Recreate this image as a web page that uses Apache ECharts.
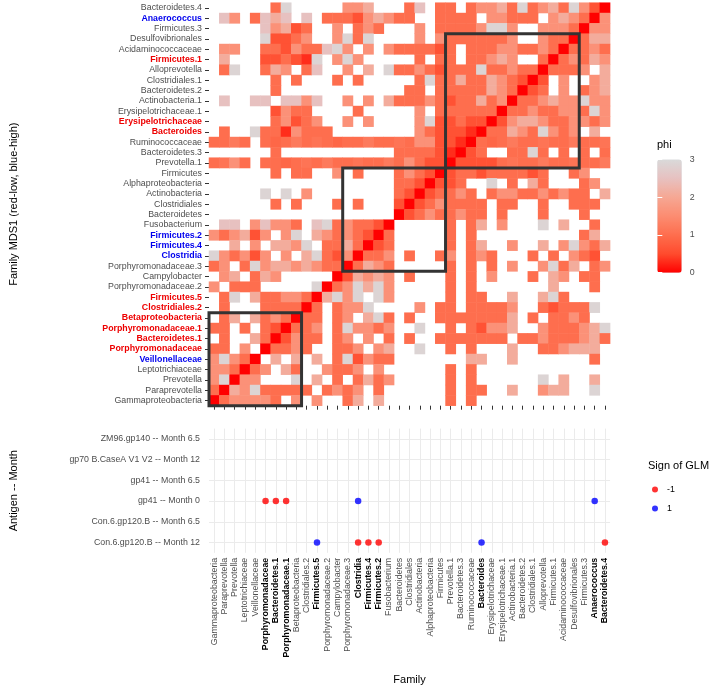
<!DOCTYPE html>
<html><head><meta charset="utf-8">
<script src="https://cdn.jsdelivr.net/npm/echarts@6/dist/echarts.min.js"></script>
<style>html,body{margin:0;padding:0;background:#fff}#c{width:716px;height:692px}</style>
</head><body><div id="c"></div>
<script>
const N = null;
// families, bottom-to-top on the heatmap y axis == left-to-right on the x axes
const families = ['Gammaproteobacteria','Paraprevotella','Prevotella','Leptotrichiaceae','Veillonellaceae',
  'Porphyromonadaceae','Bacteroidetes.1','Porphyromonadaceae.1','Betaproteobacteria','Clostridiales.2',
  'Firmicutes.5','Porphyromonadaceae.2','Campylobacter','Porphyromonadaceae.3','Clostridia',
  'Firmicutes.4','Firmicutes.2','Fusobacterium','Bacteroidetes','Clostridiales',
  'Actinobacteria','Alphaproteobacteria','Firmicutes','Prevotella.1','Bacteroidetes.3',
  'Ruminococcaceae','Bacteroides','Erysipelotrichaceae','Erysipelotrichaceae.1','Actinobacteria.1',
  'Bacteroidetes.2','Clostridiales.1','Alloprevotella','Firmicutes.1','Acidaminococcaceae',
  'Desulfovibrionales','Firmicutes.3','Anaerococcus','Bacteroidetes.4'];
const redFamilies = ['Firmicutes.1','Erysipelotrichaceae','Bacteroides','Firmicutes.5','Clostridiales.2',
  'Betaproteobacteria','Porphyromonadaceae.1','Bacteroidetes.1','Porphyromonadaceae'];
const blueFamilies = ['Anaerococcus','Firmicutes.2','Firmicutes.4','Clostridia','Veillonellaceae'];

// phi values; rows listed from the top row (Bacteroidetes.4) down, columns in `families` order
const phiRowsTopToBottom = [
[N,N,N,N,N,N,1.0,2.9,N,N,N,N,N, 1.6,1.6,2.1,N,N,N,1.0,2.5,N,1.0,1.0,N,1.0, 1.6,1.6,2.1,1.0,2.9,1.0,1.6,2.1,1.0,2.9,1.6,0.6,0],
[N,2.5,1.6,N,1.0,2.5,2.1,2.5,N,2.5,N,1.0,1.0, 1.0,0.6,1.6,2.1,1.6,1.0,1.0,N,N,1.0,1.0,1.0,1.0, N,1.6,1.6,1.0,1.0,1.0,N,1.6,2.1,1.6,1.0,0,1.6],
[N,N,N,N,N,2.5,1.6,2.1,0.6,1.0,N,N,1.6, N,1.0,1.6,1.0,N,N,N,1.6,N,1.0,1.0,1.0,1.0, 1.6,2.9,2.9,1.6,N,N,1.6,1.6,1.6,1.0,0,1.6,1.6],
[N,N,N,N,N,2.9,0.6,0.6,1.0,1.6,N,N,1.6, 2.9,1.0,2.9,N,N,N,N,1.6,N,1.6,1.0,1.0,1.0, 1.0,1.0,1.0,1.6,N,N,1.6,1.0,1.0,0,1.0,2.1,2.1],
[N,1.6,1.6,N,N,1.0,1.0,0.6,1.6,1.0,1.0,2.5,2.9, 1.6,N,1.6,N,1.6,1.0,1.0,1.0,1.0,0.6,1.0,N,1.0, 1.0,1.0,1.6,1.6,1.0,1.0,1.6,1.0,0,1.0,1.0,1.6,1.0],
[N,2.1,N,N,N,0.6,0.6,1.0,0.6,0.3,2.9,N,1.6, 2.9,1.6,N,N,N,N,N,1.0,N,1.0,1.0,N,1.0, 1.0,1.6,2.1,1.6,N,N,1.0,0,1.0,1.6,1.0,2.1,1.6],
[N,1.0,2.9,N,N,1.0,2.1,1.6,N,1.0,2.5,N,N, 1.6,N,2.1,N,2.9,1.0,1.0,1.6,1.0,0.6,1.0,1.0,1.0, 2.9,1.0,1.0,1.6,1.0,1.0,0,1.0,1.0,1.0,1.6,N,2.1],
[N,N,N,N,N,N,1.0,N,1.0,N,N,N,1.0, N,1.0,N,N,N,N,N,1.0,2.9,1.0,1.0,2.1,1.0, 1.0,2.1,1.6,1.0,0.6,0,0.6,N,1.6,N,N,1.6,2.1],
[N,N,N,N,N,N,1.0,N,N,N,N,N,N, N,N,N,N,N,N,1.0,1.0,N,1.0,1.0,1.0,1.0, 1.0,2.1,1.6,1.0,0,0.6,1.0,N,1.6,N,1.0,1.6,2.1],
[N,2.5,N,N,2.5,2.5,N,2.5,2.5,1.6,2.5,N,N, 1.6,N,1.6,N,2.1,1.0,1.0,1.0,1.6,1.0,0.6,1.0,1.0, 2.1,1.0,1.6,0,1.0,1.0,1.6,2.1,1.6,1.6,2.9,1.6,1.6],
[N,N,N,N,N,N,0.6,1.6,1.0,1.0,N,N,N, N,1.0,N,N,N,N,N,1.6,N,1.0,1.0,1.0,1.0, 1.0,1.0,0,1.0,1.0,1.6,1.0,1.0,1.6,1.6,1.0,2.9,1.6],
[N,N,N,N,N,N,1.0,1.6,0.6,1.0,1.6,N,N, 1.6,N,1.6,N,N,N,N,1.6,2.9,0.6,0.6,1.0,0.6, 0.6,0,0.6,1.6,2.1,2.1,1.6,1.0,1.0,1.6,1.6,1.0,1.6],
[N,1.0,N,N,2.9,1.0,1.0,0.3,1.6,1.0,1.0,1.0,N, N,N,N,N,N,N,N,1.6,1.0,0.6,0.6,0.6,0.3, 0,1.0,1.0,2.1,1.6,1.0,2.9,1.6,1.0,1.6,N,2.1,N],
[1.0,1.0,1.2,1.0,N,1.0,0.9,1.0,1.2,1.0,1.1,1.0,0.9, 1.0,1.0,1.2,1.0,1.0,1.1,1.0,1.6,1.6,0.6,0.6,0.3,0, 1.0,0.9,1.0,1.2,1.0,1.0,1.1,1.0,1.0,1.2,1.0,1.0,1.1],
[N,N,N,N,N,N,1.0,N,N,N,N,N,N, N,N,N,N,N,1.0,1.0,1.0,1.0,0.6,0.3,0,0.6, 1.0,N,N,1.0,1.0,2.9,1.0,N,1.0,N,1.0,N,1.0],
[1.0,1.1,1.6,1.0,N,1.0,1.0,0.9,1.0,1.1,1.0,1.2,1.0, 1.0,1.1,1.0,1.0,1.2,1.0,1.6,1.0,0.6,0.6,0,0.6,0.6, 0.6,0.6,1.0,1.1,1.0,1.0,1.2,1.0,1.0,1.1,1.0,1.0,1.2],
[N,N,N,N,N,N,1.0,N,1.0,1.0,N,N,1.6, N,1.0,N,N,N,1.0,1.6,1.0,0.6,0,0.6,1.0,1.0, 0.6,1.0,1.0,1.0,1.0,0.6,1.0,N,N,1.0,1.6,N,N],
[N,N,N,N,N,N,N,N,N,N,N,N,N, N,N,N,N,N,1.0,1.0,0.6,0,0.6,0.6,1.0,N, N,2.9,N,1.0,N,2.1,1.0,N,N,N,1.0,1.6,N],
[N,N,N,N,N,2.9,N,2.9,N,1.6,N,N,N, N,N,N,N,N,1.0,0.6,0,0.6,1.0,1.0,1.6,1.0, N,1.0,1.6,1.6,1.0,1.0,1.6,1.0,1.6,1.0,1.0,N,2.1],
[N,N,N,N,N,N,1.0,N,1.0,N,N,N,1.0, N,1.0,N,N,N,0.6,0,0.6,1.0,1.6,1.0,1.0,1.0, 1.0,N,1.0,1.0,N,N,1.0,N,N,1.0,1.0,1.0,N],
[N,N,N,N,N,N,N,N,N,N,N,N,N, N,N,N,N,N,0,0.6,1.0,1.6,1.0,1.0,1.6,1.0, 1.0,N,1.0,N,N,N,1.0,N,N,N,1.0,N,N],
[N,2.5,2.5,N,1.6,2.5,1.6,1.6,1.0,N,2.5,2.9,1.0, 1.6,1.0,1.0,0.6,0,N,N,N,N,N,1.0,N,1.0, 2.1,N,1.6,N,N,N,2.9,N,2.1,N,N,1.0,N],
[1.6,1.0,1.6,2.1,0.6,1.6,N,1.6,2.9,N,2.1,1.6,1.0, 1.6,1.0,0.6,0,1.0,N,N,N,N,N,1.0,N,1.0, N,N,N,N,N,N,N,N,N,N,1.0,2.1,N],
[N,N,2.1,N,1.6,N,2.1,2.1,1.6,2.9,N,1.0,1.0, 2.1,1.0,0,0.6,1.0,N,N,N,N,N,1.0,N,1.0, 2.1,N,N,1.6,N,N,2.1,N,1.6,2.9,1.6,1.0,2.1],
[2.9,1.6,1.0,1.6,0.6,1.6,N,1.6,N,2.1,2.9,1.0,0.6, 1.6,0,1.0,1.0,1.6,N,1.0,N,N,1.0,1.6,N,1.0, 1.6,1.0,N,N,N,1.0,N,1.0,N,1.6,1.0,0.6,N],
[1.0,1.6,N,1.0,2.9,1.6,2.1,2.1,1.6,2.1,1.6,1.0,1.0, 0,1.0,2.1,1.6,1.0,N,N,N,N,N,1.0,N,1.0, N,1.0,N,1.6,N,N,1.6,2.9,1.0,2.1,N,1.0,1.6],
[N,1.6,2.1,N,1.0,2.1,1.6,N,N,N,N,N,0, 0.6,2.1,1.6,2.1,1.6,N,1.0,N,N,N,1.0,N,1.0, N,1.6,N,N,N,1.0,N,2.1,1.6,N,1.0,1.0,N],
[1.6,N,1.0,1.0,1.0,N,N,N,N,N,2.9,0,1.0, 1.6,2.9,2.1,2.9,1.6,N,N,N,N,N,1.0,N,1.0, N,N,N,N,N,N,N,2.1,N,N,N,1.0,N],
[N,1.0,2.9,N,2.1,1.0,1.0,1.6,1.6,1.0,0,2.1,2.9, 1.6,2.9,N,2.9,1.6,N,N,N,N,N,1.0,N,1.0, 1.0,N,N,2.1,N,N,2.1,2.9,1.0,N,N,N,N],
[N,1.0,N,N,N,1.0,1.0,1.0,1.0,0,1.0,N,1.0, 1.6,1.6,2.9,N,N,N,N,1.6,N,1.0,1.0,N,1.0, 1.0,1.0,1.0,1.6,N,N,1.0,0.6,1.0,1.0,1.0,2.9,N],
[N,1.0,2.1,N,2.1,1.0,1.6,1.0,0,1.0,1.0,N,1.0, 1.6,N,2.1,2.9,1.0,N,1.0,N,N,1.0,1.0,1.0,1.0, 1.0,1.0,1.0,2.1,N,1.0,N,1.0,1.0,1.6,1.0,N,N],
[1.0,1.0,N,1.0,N,1.0,0.6,0,1.0,1.0,1.6,N,1.0, 2.9,1.6,1.6,1.0,1.6,N,N,2.9,N,N,1.0,N,1.0, 0.6,1.6,1.6,2.1,N,N,1.6,1.0,1.0,1.0,1.6,2.1,2.9],
[N,1.0,N,N,2.1,1.0,0,0.6,1.6,1.0,1.0,N,1.0, 1.6,N,1.6,N,1.0,N,1.0,N,N,1.0,1.0,1.0,1.0, 1.0,1.0,1.0,N,1.0,1.0,1.6,1.0,1.0,1.0,1.6,2.1,1.0],
[1.0,1.0,N,1.6,N,0,1.0,1.0,1.6,1.0,N,N,1.0, 1.0,1.6,N,1.6,2.1,N,N,2.9,N,N,1.0,N,1.0, N,N,N,2.1,N,N,1.0,1.0,1.6,2.1,2.1,2.1,N],
[1.6,2.9,1.6,1.0,0,N,2.1,N,2.1,N,2.1,N,1.0, 2.9,0.6,1.6,1.0,1.0,N,N,N,N,N,N,N,2.1, 2.1,N,N,2.1,N,N,N,N,N,N,N,1.0,N],
[1.6,1.6,1.0,0,1.0,1.6,N,2.1,1.0,N,N,1.6,1.0, 1.0,1.6,N,1.6,N,N,N,N,N,N,1.0,N,1.0, N,N,N,N,N,N,N,N,N,N,N,N,N],
[1.6,2.9,0,1.6,1.6,N,N,N,2.9,N,2.1,N,1.0, N,1.0,2.1,1.0,1.6,N,N,N,N,N,1.0,N,1.0, N,N,N,N,N,N,2.9,N,2.1,N,N,2.1,N],
[1.0,0,2.1,1.6,2.9,1.0,1.0,1.0,1.0,1.0,N,1.0,1.6, 1.0,1.6,N,1.0,N,N,N,N,N,N,1.0,N,1.0, 1.0,N,N,2.1,N,N,1.6,2.1,2.1,N,N,2.9,N],
[0,1.0,1.6,1.6,1.6,1.6,1.0,N,1.6,N,1.6,N,N, 1.0,2.1,N,2.1,N,N,N,N,N,N,1.0,N,1.0, N,N,N,N,N,N,N,N,N,N,N,N,N]
];

// boxed clusters (first and last family of each box)
const boxStart = ['Gammaproteobacteria','Porphyromonadaceae.3','Prevotella.1'];
const boxEnd   = ['Betaproteobacteria','Firmicutes','Desulfovibrionales'];

// colour scale
const phiMin = 0, phiMax = 3;
const phiColors = ['#FF0000','#FF4B2D','#FE6E4E','#FC8C71','#F6A793','#E7C1C0','#D9D9D9'];

// lower panel
const antigens = ['ZM96.gp140 -- Month 6.5','gp70 B.CaseA V1 V2 -- Month 12','gp41 -- Month 6.5',
  'gp41 -- Month 0','Con.6.gp120.B -- Month 6.5','Con.6.gp120.B -- Month 12'];
const glmAntigen = ['gp41 -- Month 0','gp41 -- Month 0','gp41 -- Month 0','gp41 -- Month 0','gp41 -- Month 0',
  'Con.6.gp120.B -- Month 12','Con.6.gp120.B -- Month 12','Con.6.gp120.B -- Month 12',
  'Con.6.gp120.B -- Month 12','Con.6.gp120.B -- Month 12','Con.6.gp120.B -- Month 12'];
const glmFamily = ['Porphyromonadaceae','Bacteroidetes.1','Porphyromonadaceae.1','Clostridia','Anaerococcus',
  'Firmicutes.5','Clostridia','Firmicutes.4','Firmicutes.2','Bacteroides','Bacteroidetes.4'];
const glmSign = [-1,-1,-1,1,1, 1,-1,-1,-1,1,-1];

const FONT = 'Liberation Sans, Arial, sans-serif';
const n = families.length;
const heatData = [];
phiRowsTopToBottom.forEach((row, i) => {
  const yi = n - 1 - i;
  row.forEach((v, j) => { if (v !== null) heatData.push([j, yi, v]); });
});
const boxData = boxStart.map((s, k) => [families.indexOf(s), families.indexOf(boxEnd[k])]);
const negPts = [], posPts = [];
glmFamily.forEach((f, k) => {
  (glmSign[k] < 0 ? negPts : posPts).push([f, glmAntigen[k]]);
});
const boldSet = new Set(glmFamily);

const chart = echarts.init(document.getElementById('c'), null, {renderer: 'canvas'});
chart.setOption({
  animation: false,
  backgroundColor: '#ffffff',
  textStyle: {fontFamily: FONT},
  title: [
    {text: 'phi', left: 657, top: 139, padding: 0, textStyle: {fontSize: 11, fontWeight: 'normal', color: '#000', fontFamily: FONT}},
    {text: 'Sign of GLM', left: 648, top: 460, padding: 0, textStyle: {fontSize: 11, fontWeight: 'normal', color: '#000', fontFamily: FONT}}
  ],
  legend: {
    data: ['-1', '1'], orient: 'vertical', left: 652, top: 485, padding: 0,
    itemWidth: 14, itemHeight: 6, itemGap: 10, icon: 'circle',
    textStyle: {fontSize: 8.8, color: '#000', fontFamily: FONT}, selectedMode: false
  },
  grid: [
    {left: 207.1, top: 2.7, width: 403, height: 403},
    {left: 207.1, top: 428.6, width: 403, height: 124.2},
    {left: 657.3, top: 159.6, width: 24.4, height: 113.1}
  ],
  visualMap: {
    type: 'continuous', min: phiMin, max: phiMax, seriesIndex: 0, calculable: false,
    left: 657.3, top: 159.6, itemWidth: 24.4, itemHeight: 113.1, padding: 0,
    hoverLink: false, inRange: {color: phiColors}
  },
  xAxis: [
    {gridIndex: 0, type: 'category', data: families, axisLine: {show: false},
     axisTick: {show: true, length: 4, alignWithLabel: true, interval: 0, lineStyle: {color: '#333', width: 1}},
     axisLabel: {show: false}, splitLine: {show: false}},
    {gridIndex: 1, type: 'category', data: families, axisLine: {show: false}, axisTick: {show: false},
     name: 'Family', nameLocation: 'middle', nameGap: 122,
     nameTextStyle: {fontSize: 11, color: '#000', fontFamily: FONT},
     axisLabel: {interval: 0, rotate: 90, margin: 5, fontSize: 8.8, color: '#4D4D4D', fontFamily: FONT,
       formatter: v => boldSet.has(v) ? '{k|' + v + '}' : v,
       rich: {k: {fontSize: 8.8, color: '#000', fontWeight: 'bold', fontFamily: FONT}}},
     splitLine: {show: true, interval: 0, alignWithLabel: true, lineStyle: {color: '#EBEBEB', width: 1}}},
    {gridIndex: 2, type: 'value', min: 0, max: 1, show: false}
  ],
  yAxis: [
    {gridIndex: 0, type: 'category', data: families, axisLine: {show: false},
     name: 'Family MDS1 (red-low, blue-high)', nameLocation: 'middle', nameGap: 190,
     nameTextStyle: {fontSize: 11, color: '#000', fontFamily: FONT},
     axisTick: {show: true, length: 4, alignWithLabel: true, interval: 0, lineStyle: {color: '#333', width: 1}},
     axisLabel: {interval: 0, margin: 7, fontSize: 8.8, color: '#4D4D4D', fontFamily: FONT,
       formatter: v => redFamilies.includes(v) ? '{r|' + v + '}' : (blueFamilies.includes(v) ? '{b|' + v + '}' : v),
       rich: {r: {fontSize: 8.8, color: '#EE0000', fontWeight: 'bold', fontFamily: FONT},
              b: {fontSize: 8.8, color: '#0000EE', fontWeight: 'bold', fontFamily: FONT}}},
     splitLine: {show: false}},
    {gridIndex: 1, type: 'category', data: antigens, inverse: true, axisLine: {show: false}, axisTick: {show: false},
     name: 'Antigen -- Month', nameLocation: 'middle', nameGap: 190,
     nameTextStyle: {fontSize: 11, color: '#000', fontFamily: FONT},
     axisLabel: {interval: 0, margin: 9, fontSize: 8.8, color: '#4D4D4D', fontFamily: FONT},
     splitLine: {show: true, interval: 0, alignWithLabel: true, lineStyle: {color: '#EBEBEB', width: 1}}},
    {gridIndex: 2, type: 'value', min: phiMin, max: phiMax, interval: 1, position: 'right', z: 10,
     axisLine: {show: false},
     axisTick: {show: true, inside: true, length: 5, lineStyle: {color: '#ffffff', width: 1}},
     axisLabel: {margin: 8, fontSize: 8.8, color: '#4D4D4D', fontFamily: FONT}, splitLine: {show: false}},
    {gridIndex: 2, type: 'value', min: phiMin, max: phiMax, interval: 1, position: 'left', z: 10,
     axisLine: {show: false},
     axisTick: {show: true, inside: true, length: 5, lineStyle: {color: '#ffffff', width: 1}},
     axisLabel: {show: false}, splitLine: {show: false}}
  ],
  series: [
    {type: 'heatmap', xAxisIndex: 0, yAxisIndex: 0, data: heatData, progressive: 0,
     itemStyle: {borderWidth: 0}, emphasis: {disabled: true}},
    {type: 'custom', xAxisIndex: 0, yAxisIndex: 0, data: boxData, clip: false, z: 5, silent: true,
     renderItem: (params, api) => {
       const a = api.value(0), b = api.value(1);
       const p0 = api.coord([a, a]);
       const p1 = api.coord([b, b]);
       const sz = api.size([1, 1]);
       const x0 = p0[0] - sz[0] / 2, x1 = p1[0] + sz[0] / 2;
       const y0 = p1[1] - sz[1] / 2, y1 = p0[1] + sz[1] / 2;
       return {type: 'rect', shape: {x: x0, y: y0, width: x1 - x0, height: y1 - y0},
               style: {fill: 'none', stroke: '#333333', lineWidth: 3}};
     }},
    {name: '-1', type: 'scatter', xAxisIndex: 1, yAxisIndex: 1, data: negPts, symbolSize: 6.5,
     itemStyle: {color: '#FF0000'}, emphasis: {disabled: true}},
    {name: '1', type: 'scatter', xAxisIndex: 1, yAxisIndex: 1, data: posPts, symbolSize: 6.5,
     itemStyle: {color: '#0000FF'}, emphasis: {disabled: true}},
    {type: 'scatter', xAxisIndex: 2, yAxisIndex: 2, data: [], silent: true},
    {type: 'scatter', xAxisIndex: 2, yAxisIndex: 3, data: [], silent: true}
  ]
});
</script></body></html>
